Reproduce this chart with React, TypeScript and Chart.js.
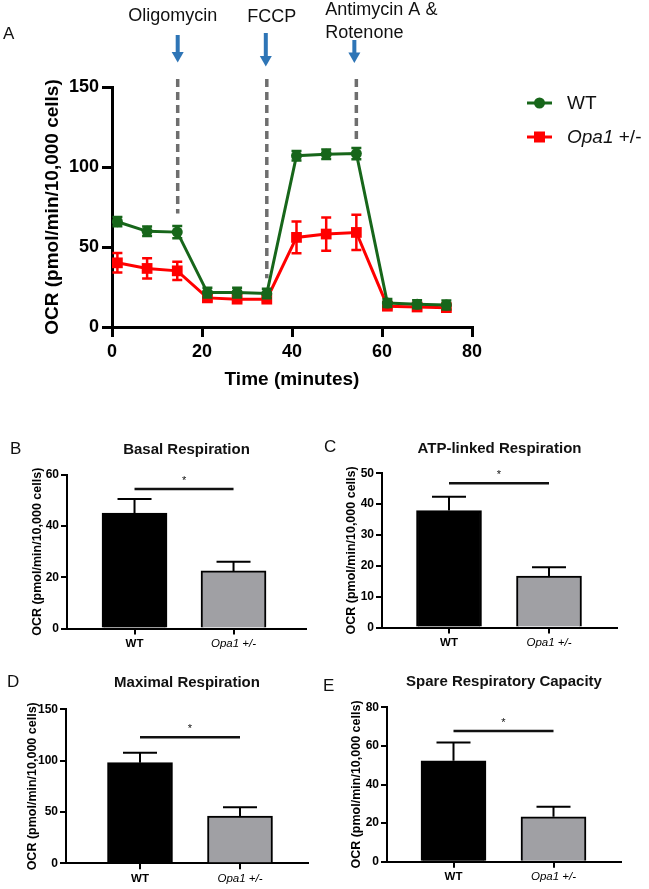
import React, { useEffect, useRef } from 'react';
import { Chart, registerables } from 'chart.js';

Chart.register(...registerables);

const FONT = "'Liberation Sans', Arial, Helvetica, sans-serif";

// ---------- Panel A : OCR time course ----------
const TIME_MIN = [1.2, 7.8, 14.5, 21.2, 27.8, 34.4, 41.0, 47.6, 54.3, 61.2, 67.8, 74.3];
const WT_OCR = [65.8, 59.8, 59.3, 21.5, 21.5, 20.9, 107.0, 108.0, 108.4, 15.0, 14.2, 13.8];
const WT_SEM = [2.9, 3.0, 3.8, 3.0, 3.0, 3.0, 3.0, 3.0, 3.5, 2.5, 2.5, 2.8];
const OPA1_OCR = [40.1, 36.6, 35.1, 18.2, 17.4, 17.4, 56.0, 58.1, 59.1, 13.0, 12.5, 12.1];
const OPA1_SEM = [6.1, 6.3, 5.7, 2.0, 1.5, 1.5, 9.9, 10.4, 11.0, 1.5, 1.5, 1.5];
const INJECTION_TIMES = [14.6, 34.4, 54.3];
const INJECTION_LABELS = [['Oligomycin'], ['FCCP'], ['Antimycin A &', 'Rotenone']];
const INJECTION_LINE_END = [71, 30.5, 117];

// ---------- Panels B–E : summary bars ----------
const GROUPS = ['WT', 'Opa1 +/-'];
const GROUP_X = [1, 2];
const BASAL = [45.1, 22.5];
const BASAL_SEM = [5.5, 3.6];
const ATP_LINKED = [37.9, 16.7];
const ATP_LINKED_SEM = [4.5, 2.8];
const MAXIMAL = [98.0, 46.0];
const MAXIMAL_SEM = [9.7, 8.5];
const SPARE = [52.3, 23.3];
const SPARE_SEM = [9.4, 5.2];

const GREEN = '#17661A';
const RED = '#FF0000';
const BLUE = '#2E75B6';
const DASH_GRAY = '#6E6E6E';
const BAR_GRAY = '#A0A0A4';

type Rect = { x: number; y: number; w: number; h: number };
type Area = { l: number; t: number; r: number; b: number };

const errorBarPlugin = {
  id: 'errorBars',
  beforeDatasetDraw(chart: any, args: any) {
    const ds: any = chart.data.datasets[args.index];
    const errs: number[] | undefined = ds.errorBars;
    if (!errs) return;
    const meta = args.meta;
    const ys = chart.scales[meta.yAxisID];
    const ctx = chart.ctx;
    ctx.save();
    ctx.strokeStyle = ds.errorColor || ds.borderColor;
    ctx.lineWidth = ds.errorWidth || 2;
    ctx.setLineDash([]);
    meta.data.forEach((el: any, j: number) => {
      const raw = ds.data[j];
      const v = typeof raw === 'number' ? raw : raw.y;
      const e = errs[j];
      const x = el.x;
      const yTop = ys.getPixelForValue(v + e);
      const yBot = ds.errorUpOnly ? el.y : ys.getPixelForValue(v - e);
      const cap = ds.errorCap || 5;
      ctx.beginPath();
      ctx.moveTo(x, yTop);
      ctx.lineTo(x, yBot);
      ctx.moveTo(x - cap, yTop);
      ctx.lineTo(x + cap, yTop);
      if (!ds.errorUpOnly) {
        ctx.moveTo(x - cap, yBot);
        ctx.lineTo(x + cap, yBot);
      }
      ctx.stroke();
    });
    ctx.restore();
  },
};

const ARROW_DX = [0, -1, -2];
const ARROW_SPAN = [[-52, -24.5], [-54, -20.5], [-47, -24]];
const LABEL_LAYOUT = [
  { align: 'center', dx: -5, ys: [-71] },
  { align: 'center', dx: 5, ys: [-70] },
  { align: 'left', dx: -31, ys: [-77, -54] },
];

const panelAPlugin = {
  id: 'panelA',
  beforeDatasetsDraw(chart: any) {
    const { ctx, chartArea, scales } = chart;
    ctx.save();
    ctx.strokeStyle = DASH_GRAY;
    ctx.lineWidth = 3.5;
    ctx.setLineDash([8, 5]);
    INJECTION_TIMES.forEach((t, i) => {
      const px = scales.x.getPixelForValue(t);
      ctx.beginPath();
      ctx.moveTo(px, chartArea.top - 8);
      ctx.lineTo(px, scales.y.getPixelForValue(INJECTION_LINE_END[i]));
      ctx.stroke();
    });
    ctx.restore();
  },
  afterDraw(chart: any) {
    const { ctx, chartArea, scales } = chart;
    const top = chartArea.top;
    ctx.save();
    // arrows
    ctx.fillStyle = BLUE;
    INJECTION_TIMES.forEach((t, i) => {
      const px = scales.x.getPixelForValue(t) + ARROW_DX[i];
      const y0 = top + ARROW_SPAN[i][0];
      const y1 = top + ARROW_SPAN[i][1];
      const head = 10.5, hw = 6, sw = 4;
      ctx.fillRect(px - sw / 2, y0, sw, y1 - head - y0 + 1);
      ctx.beginPath();
      ctx.moveTo(px - hw, y1 - head);
      ctx.lineTo(px + hw, y1 - head);
      ctx.lineTo(px, y1);
      ctx.closePath();
      ctx.fill();
    });
    // injection labels
    ctx.fillStyle = '#111';
    ctx.font = `18px ${FONT}`;
    ctx.textBaseline = 'middle';
    INJECTION_TIMES.forEach((t, i) => {
      const px = scales.x.getPixelForValue(t);
      const lay = LABEL_LAYOUT[i];
      ctx.textAlign = lay.align;
      INJECTION_LABELS[i].forEach((line, k) => {
        ctx.fillText(line, px + lay.dx, top + lay.ys[k]);
      });
    });
    // legend
    const lx0 = 527, lx1 = 552, tx = 567;
    const rows = [103, 137];
    const ds = chart.data.datasets;
    rows.forEach((ry, i) => {
      const d = ds[i];
      ctx.strokeStyle = d.borderColor;
      ctx.fillStyle = d.borderColor;
      ctx.lineWidth = 3;
      ctx.beginPath();
      ctx.moveTo(lx0, ry);
      ctx.lineTo(lx1, ry);
      ctx.stroke();
      const cx = (lx0 + lx1) / 2;
      if (d.pointStyle === 'rect') {
        ctx.fillRect(cx - 5.5, ry - 5.5, 11, 11);
      } else {
        ctx.beginPath();
        ctx.arc(cx, ry, 5.5, 0, Math.PI * 2);
        ctx.fill();
      }
      ctx.fillStyle = '#111';
      ctx.textAlign = 'left';
      const label: string = d.label;
      const sp = label.indexOf(' ');
      if (sp > 0) {
        const gene = label.slice(0, sp);
        ctx.font = `italic 19px ${FONT}`;
        ctx.fillText(gene, tx, ry + 1);
        const w = ctx.measureText(gene).width;
        ctx.font = `19px ${FONT}`;
        ctx.fillText(label.slice(sp), tx + w, ry + 1);
      } else {
        ctx.font = `19px ${FONT}`;
        ctx.fillText(label, tx, ry + 1);
      }
    });
    // panel letter
    ctx.font = `17px ${FONT}`;
    ctx.fillStyle = '#111';
    ctx.textAlign = 'left';
    ctx.fillText('A', 3, 34);
    ctx.restore();
  },
};

function buildPanelA(canvas: Rect) {
  const area: Area = { l: 112, t: 87, r: 472, b: 327 };
  const tickFont = { family: FONT, size: 18, weight: 'bold' as const };
  const titleFont = { family: FONT, size: 19, weight: 'bold' as const };
  return {
    type: 'line',
    data: {
      datasets: [
        {
          label: GROUPS[0],
          data: TIME_MIN.map((t, i) => ({ x: t, y: WT_OCR[i] })),
          borderColor: GREEN,
          backgroundColor: GREEN,
          borderWidth: 3,
          pointStyle: 'circle',
          pointRadius: 5.5,
          pointBorderWidth: 0,
          errorBars: WT_SEM,
          errorCap: 5,
          errorWidth: 2.5,
        },
        {
          label: GROUPS[1],
          data: TIME_MIN.map((t, i) => ({ x: t, y: OPA1_OCR[i] })),
          borderColor: RED,
          backgroundColor: RED,
          borderWidth: 3,
          pointStyle: 'rect',
          pointRadius: 7.6,
          pointBorderWidth: 0,
          errorBars: OPA1_SEM,
          errorCap: 5,
          errorWidth: 2.5,
        },
      ],
    },
    options: {
      responsive: false,
      animation: false,
      devicePixelRatio: 1,
      layout: { padding: { left: 0, top: area.t - canvas.y, right: canvas.x + canvas.w - area.r, bottom: 0 } },
      plugins: { legend: { display: false }, tooltip: { enabled: false } },
      scales: {
        x: {
          type: 'linear',
          min: 0,
          max: 80,
          afterFit: (s: any) => { s.height = canvas.y + canvas.h - area.b; },
          ticks: { stepSize: 20, font: tickFont, color: '#000', padding: 4, maxRotation: 0 },
          grid: { drawOnChartArea: false, drawTicks: true, tickLength: 10, color: '#000', lineWidth: 3 },
          border: { display: true, color: '#000', width: 3 },
          title: { display: true, text: 'Time (minutes)', font: titleFont, color: '#000', padding: { top: 0, bottom: 8.6 } },
        },
        y: {
          type: 'linear',
          min: 0,
          max: 150,
          afterFit: (s: any) => { s.width = area.l - canvas.x; },
          ticks: { stepSize: 50, font: tickFont, color: '#000', padding: 3 },
          grid: { drawOnChartArea: false, drawTicks: true, tickLength: 10, color: '#000', lineWidth: 3 },
          border: { display: true, color: '#000', width: 3 },
          title: { display: true, text: 'OCR (pmol/min/10,000 cells)', font: titleFont, color: '#000', padding: { top: 53 - 11.4, bottom: 0 } },
        },
      },
    },
    plugins: [errorBarPlugin, panelAPlugin],
  };
}

interface BarPanel {
  canvas: Rect;
  area: Area;
  letter: string;
  letterAt: [number, number];
  title: string;
  titleY: number;
  yTitleX: number;
  yMax: number;
  yStep: number;
  values: number[];
  sems: number[];
  bracket: number;
  xRange: [number, number];
}

const PANELS: BarPanel[] = [
  {
    canvas: { x: 0, y: 420, w: 320, h: 240 }, area: { l: 67, t: 475, r: 306, b: 628.5 },
    letter: 'B', letterAt: [10, 449], title: 'Basal Respiration', titleY: 450, yTitleX: 38,
    yMax: 60, yStep: 20, values: BASAL, sems: BASAL_SEM, bracket: 54.5, xRange: [0.318, 2.732],
  },
  {
    canvas: { x: 320, y: 420, w: 329, h: 240 }, area: { l: 382, t: 473.3, r: 617, b: 627.5 },
    letter: 'C', letterAt: [324, 447], title: 'ATP-linked Respiration', titleY: 449, yTitleX: 352,
    yMax: 50, yStep: 10, values: ATP_LINKED, sems: ATP_LINKED_SEM, bracket: 46.8, xRange: [0.33, 2.68],
  },
  {
    canvas: { x: 0, y: 660, w: 320, h: 229 }, area: { l: 66, t: 709.3, r: 308, b: 863.3 },
    letter: 'D', letterAt: [7, 682], title: 'Maximal Respiration', titleY: 683, yTitleX: 33,
    yMax: 150, yStep: 50, values: MAXIMAL, sems: MAXIMAL_SEM, bracket: 122.7, xRange: [0.26, 2.68],
  },
  {
    canvas: { x: 320, y: 660, w: 329, h: 229 }, area: { l: 387, t: 707.3, r: 621, b: 861.7 },
    letter: 'E', letterAt: [323, 686], title: 'Spare Respiratory Capacity', titleY: 682, yTitleX: 356.7,
    yMax: 80, yStep: 20, values: SPARE, sems: SPARE_SEM, bracket: 67.7, xRange: [0.335, 2.675],
  },
];

function makeBarDecor(p: BarPanel) {
  return {
    id: 'barDecor',
    afterDraw(chart: any) {
      const { ctx, chartArea, scales } = chart;
      const ox = p.canvas.x, oy = p.canvas.y;
      ctx.save();
      // significance bracket
      const x1 = scales.x.getPixelForValue(GROUP_X[0]);
      const x2 = scales.x.getPixelForValue(GROUP_X[1]);
      const by = scales.y.getPixelForValue(p.bracket);
      ctx.strokeStyle = '#111';
      ctx.lineWidth = 2.5;
      ctx.beginPath();
      ctx.moveTo(x1, by);
      ctx.lineTo(x2, by);
      ctx.stroke();
      ctx.fillStyle = '#111';
      ctx.font = `11px ${FONT}`;
      ctx.textAlign = 'center';
      ctx.textBaseline = 'alphabetic';
      ctx.fillText('*', (x1 + x2) / 2, by - 5.5);
      // title
      ctx.font = `bold 15px ${FONT}`;
      ctx.textBaseline = 'middle';
      ctx.fillText(p.title, (chartArea.left + chartArea.right) / 2, p.titleY - oy);
      // letter
      ctx.font = `17px ${FONT}`;
      ctx.textAlign = 'left';
      ctx.fillText(p.letter, p.letterAt[0] - ox, p.letterAt[1] - oy);
      ctx.restore();
    },
  };
}

function buildBarPanel(p: BarPanel) {
  const c = p.canvas, a = p.area;
  const tickFont = { family: FONT, size: 12, weight: 'bold' as const };
  return {
    type: 'bar',
    data: {
      datasets: [
        {
          label: p.title,
          data: GROUP_X.map((x, i) => ({ x, y: p.values[i] })),
          backgroundColor: ['#000000', BAR_GRAY],
          borderColor: '#000000',
          borderWidth: 2,
          barThickness: 65,
          errorBars: p.sems,
          errorUpOnly: true,
          errorCap: 17,
          errorWidth: 2,
          errorColor: '#000000',
        },
      ],
    },
    options: {
      responsive: false,
      animation: false,
      devicePixelRatio: 1,
      layout: { padding: { left: 0, top: a.t - c.y, right: c.x + c.w - a.r, bottom: 0 } },
      plugins: { legend: { display: false }, tooltip: { enabled: false } },
      scales: {
        x: {
          type: 'linear',
          min: p.xRange[0],
          max: p.xRange[1],
          offset: false,
          afterBuildTicks: (s: any) => { s.ticks = GROUP_X.map((v) => ({ value: v })); },
          afterFit: (s: any) => { s.height = c.y + c.h - a.b; },
          ticks: {
            autoSkip: false,
            maxRotation: 0,
            color: '#000',
            padding: 2.5,
            callback: (_v: any, i: number) => GROUPS[i],
            font: (ctx: any) =>
              ctx.index === 1
                ? { family: FONT, size: 11.5, style: 'italic', weight: 'normal' }
                : { family: FONT, size: 11.5, weight: 'bold' },
          },
          grid: { offset: false, drawOnChartArea: false, drawTicks: true, tickLength: 6, color: '#000', lineWidth: 2 },
          border: { display: true, color: '#000', width: 2 },
        },
        y: {
          type: 'linear',
          min: 0,
          max: p.yMax,
          afterFit: (s: any) => { s.width = a.l - c.x; },
          ticks: { stepSize: p.yStep, font: tickFont, color: '#000', padding: 2 },
          grid: { drawOnChartArea: false, drawTicks: true, tickLength: 6, color: '#000', lineWidth: 2 },
          border: { display: true, color: '#000', width: 2 },
          title: {
            display: true,
            text: 'OCR (pmol/min/10,000 cells)',
            color: '#000',
            font: { family: FONT, size: 12.5, weight: 'bold' },
            padding: { top: p.yTitleX - c.x - 7.5, bottom: 0 },
          },
        },
      },
    },
    plugins: [errorBarPlugin, makeBarDecor(p)],
  };
}

function ChartCanvas({ rect, build }: { rect: Rect; build: () => any }) {
  const ref = useRef<HTMLCanvasElement>(null);
  useEffect(() => {
    const chart = new Chart(ref.current as HTMLCanvasElement, build());
    return () => chart.destroy();
  }, []);
  return (
    <canvas
      ref={ref}
      width={rect.w}
      height={rect.h}
      style={{ position: 'absolute', left: rect.x, top: rect.y, width: rect.w, height: rect.h }}
    />
  );
}

const PANEL_A_RECT: Rect = { x: 0, y: 0, w: 649, h: 400 };

export default function App() {
  return (
    <div style={{ position: 'absolute', left: 0, top: 0, width: 649, height: 889, background: '#ffffff', overflow: 'hidden' }}>
      <ChartCanvas rect={PANEL_A_RECT} build={() => buildPanelA(PANEL_A_RECT)} />
      {PANELS.map((p) => (
        <ChartCanvas key={p.letter} rect={p.canvas} build={() => buildBarPanel(p)} />
      ))}
    </div>
  );
}
